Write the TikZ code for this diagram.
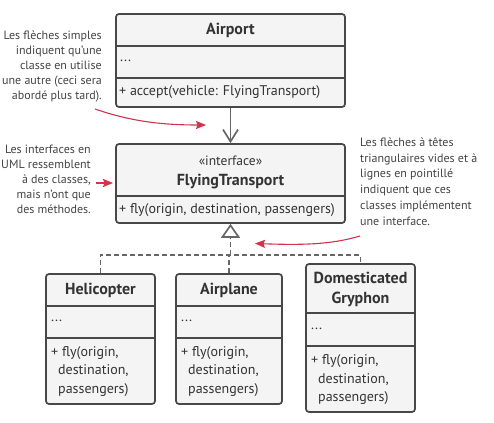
\documentclass[tikz,border=0pt]{standalone}
\usepackage{fontspec}
\setmainfont{PT Sans}
\usetikzlibrary{arrows.meta}
\definecolor{boxline}{HTML}{484848}
\definecolor{boxfill}{HTML}{F4F4F4}
\definecolor{txt}{HTML}{333333}
\definecolor{notec}{HTML}{444444}
\definecolor{redarrow}{HTML}{D0344A}
\definecolor{connc}{HTML}{666666}
\tikzset{
  classbox/.style={draw=boxline, fill=boxfill, line width=1.7pt, rounded corners=3pt, inner sep=0pt},
  divline/.style={draw=boxline, line width=1.7pt},
  ttl/.style={font=\fontsize{16}{20}\selectfont\bfseries, text=txt, inner sep=0pt, align=center},
  mem/.style={font=\fontsize{14}{18.5}\selectfont, text=txt, inner sep=0pt, anchor=west, align=left},
  notetxt/.style={font=\fontsize{12}{15}\selectfont, text=notec, inner sep=0pt},
  dep/.style={draw=connc, line width=1.7pt, -{Straight Barb[length=12pt,width=15pt]}},
  realz/.style={draw=connc, line width=1.7pt, dash pattern=on 5pt off 3pt},
  redarr/.style={draw=redarrow, line width=1.1pt, -{Stealth[length=10pt,width=8pt,inset=1.5pt]}}
}
\begin{document}
\begin{tikzpicture}[x=1pt,y=-1pt]
\useasboundingbox[fill=white] (0,0) rectangle (494,422);

% Airport
\node[classbox, minimum width=229pt, minimum height=93pt] (airport) at (230.5,60.5) {};
\draw[divline] (airport.west |- 0,46) -- (airport.east |- 0,46);
\draw[divline] (airport.west |- 0,78) -- (airport.east |- 0,78);
\node[ttl] (airportT) at (230.5,30) {Airport};
\node[mem] (airportA) at (120,61) {...};
\node[mem] (airportM) at (119,92.5) {+ accept(vehicle: FlyingTransport)};

% FlyingTransport
\node[classbox, minimum width=229pt, minimum height=79pt] (flying) at (230.5,183.5) {};
\draw[divline] (flying.west |- 0,196) -- (flying.east |- 0,196);
\node[font=\fontsize{13.5}{18}\selectfont, text=txt, inner sep=0pt] (flyingS) at (230.5,161) {«interface»};
\node[ttl] (flyingT) at (230.5,181.5) {FlyingTransport};
\node[mem] (flyingM) at (119,210) {+ fly(origin, destination, passengers)};

% Helicopter
\node[classbox, minimum width=109pt, minimum height=130pt] (heli) at (100.5,339) {};
\draw[divline] (heli.west |- 0,306) -- (heli.east |- 0,306);
\draw[divline] (heli.west |- 0,338) -- (heli.east |- 0,338);
\node[ttl] (heliT) at (100.5,290) {Helicopter};
\node[mem] (heliA) at (51,321) {...};
\node[mem] (heliM) at (51,371.5) {+ fly(origin,\\\hspace*{7pt}destination,\\\hspace*{7pt}passengers)};

% Airplane
\node[classbox, minimum width=106pt, minimum height=130pt] (plane) at (229,339) {};
\draw[divline] (plane.west |- 0,306) -- (plane.east |- 0,306);
\draw[divline] (plane.west |- 0,338) -- (plane.east |- 0,338);
\node[ttl] (planeT) at (229,290) {Airplane};
\node[mem] (planeA) at (181,321) {...};
\node[mem] (planeM) at (181,371.5) {+ fly(origin,\\\hspace*{7pt}destination,\\\hspace*{7pt}passengers)};

% Domesticated Gryphon
\node[classbox, minimum width=109pt, minimum height=148pt] (gryph) at (360.5,338) {};
\draw[divline] (gryph.west |- 0,313) -- (gryph.east |- 0,313);
\draw[divline] (gryph.west |- 0,346) -- (gryph.east |- 0,346);
\node[ttl] (gryphT) at (360.5,289.5) {Domesticated\\Gryphon};
\node[mem] (gryphA) at (311,329) {...};
\node[mem] (gryphM) at (311,380) {+ fly(origin,\\\hspace*{7pt}destination,\\\hspace*{7pt}passengers)};

% connectors
\draw[dep] (airport.south) -- (flying.north);
\coordinate (bus) at (flying.south |- 0,255);
\draw[realz] (heli.north) -- (heli.north |- bus) -- (gryph.north |- bus) -- (gryph.north);
\draw[realz] (plane.north) -- (plane.north |- bus);
\draw[realz, -{Triangle[open, length=14pt, width=19pt, line width=1.7pt]}] (bus) -- (flying.south);

% notes
\node[notetxt, align=right, anchor=east] (note1) at (102,67) {Les flèches simples\\indiquent qu'une\\classe en utilise\\une autre (ceci sera\\abordé plus tard).};
\node[notetxt, align=right, anchor=east] (note2) at (91,179) {Les interfaces en\\UML ressemblent\\à des classes,\\mais n'ont que\\des méthodes.};
\node[notetxt, font=\fontsize{12}{15.8}\selectfont, align=left, anchor=west] (note3) at (360,181.5) {Les flèches à têtes\\triangulaires vides et à\\lignes en pointillé\\indiquent que ces\\classes implémentent\\une interface.};

\coordinate (r1s) at (95,109);
\coordinate (r1e) at (206,125);
\draw[redarr] (r1s) .. controls (130,121) and (160,125) .. (r1e);
\coordinate (r2s) at (96,183);
\coordinate (r2e) at (113,183);
\draw[redarr] (r2s) -- (r2e);
\coordinate (r3s) at (360,236);
\coordinate (r3e) at (255,243.5);
\draw[redarr] (r3s) .. controls (330,245) and (300,245) .. (r3e);
\end{tikzpicture}
\end{document}
